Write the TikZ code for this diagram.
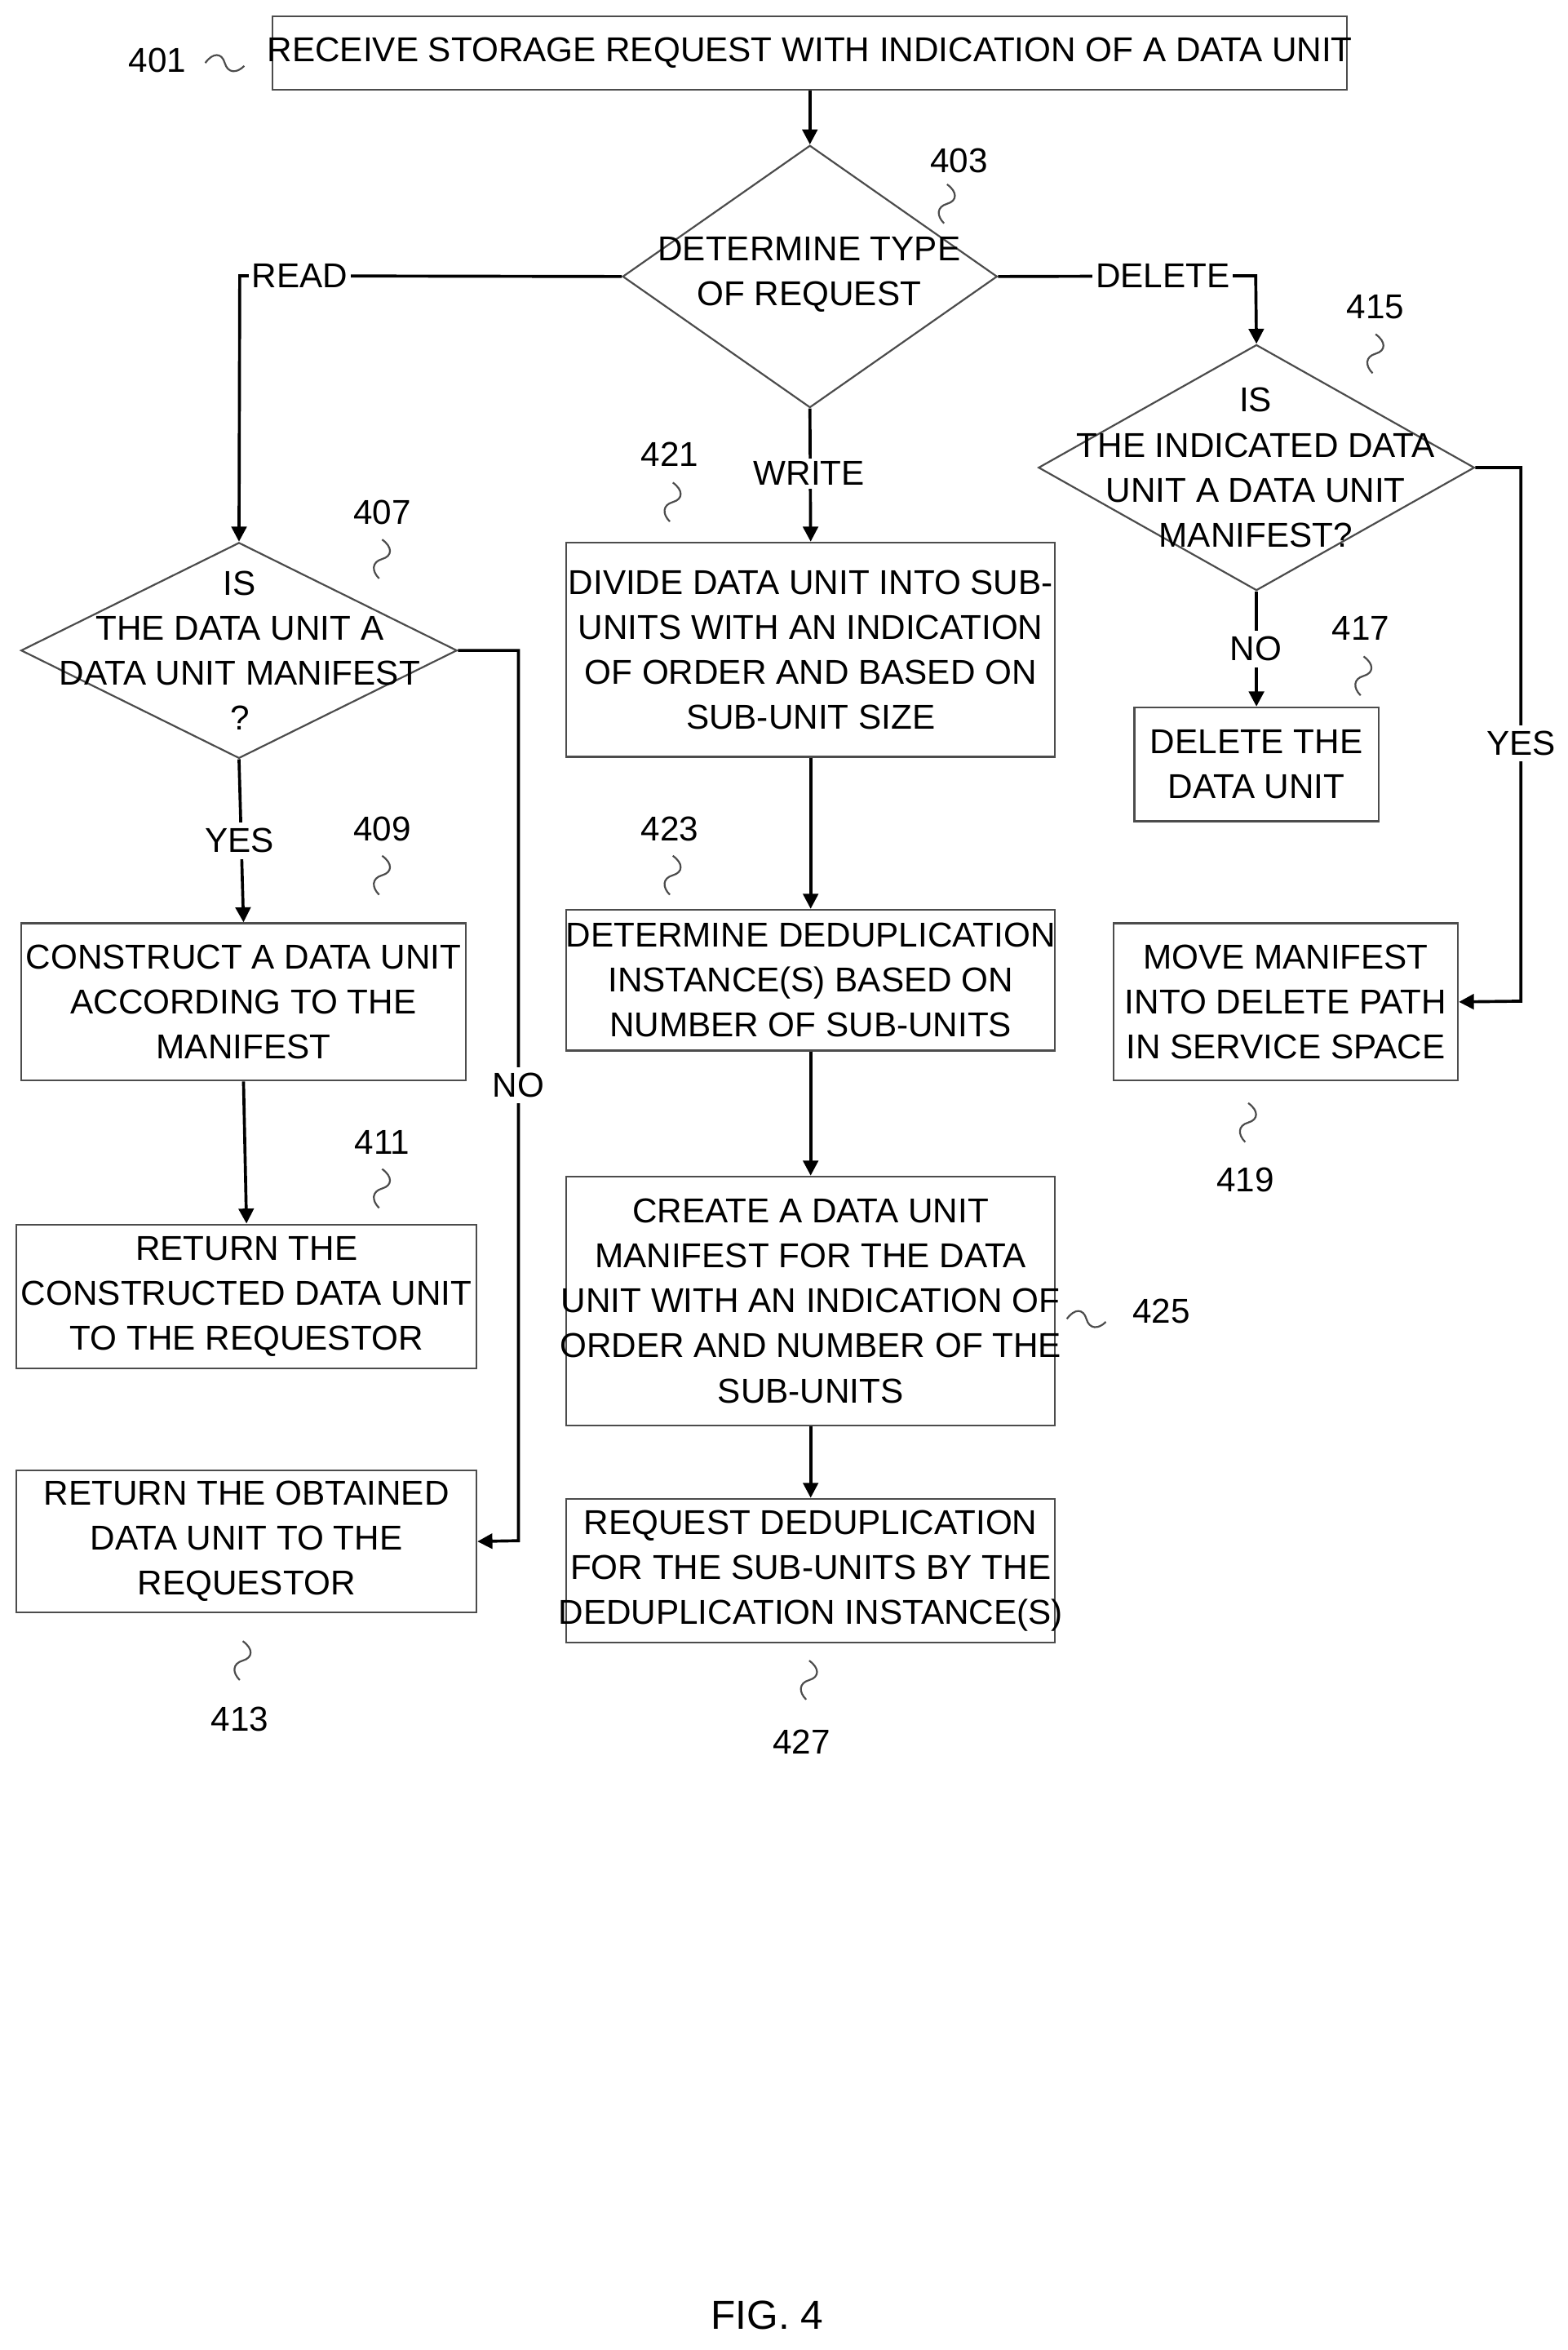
\documentclass[tikz,border=0pt]{standalone}
\usepackage{fontspec}
\setmainfont{Liberation Sans}
\usetikzlibrary{shapes.geometric,arrows.meta}
\begin{document}
\begin{tikzpicture}[x=0.5pt,y=-0.5pt,
  txt/.style={font=\fontsize{11.5}{15}\selectfont,align=center,inner sep=0pt},
  box/.style={draw=black!70,line width=0.6pt,rectangle,inner sep=0pt},
  dia/.style={draw=black!70,line width=0.6pt,diamond,inner sep=0pt},
  arr/.style={line width=1pt,-{Triangle[length=5pt,width=5pt]}},
  ln/.style={line width=1pt},
  lab/.style={font=\fontsize{11.5}{15}\selectfont,inner sep=0pt},
  sq/.style={draw=black!70,line width=0.6pt},
  vsq/.pic={\draw[sq] (0,0) .. controls (7,5) and (7,11) .. (0,13) .. controls (-7,15) and (-7,21) .. (-2,26);},
  hsq/.pic={\draw[sq] (0,0) .. controls (5,-7) and (11,-7) .. (13,0) .. controls (15,7) and (21,7) .. (26,2);}]
\useasboundingbox (0,0) rectangle (1046,1568);
% boxes
\node[box,minimum width=358.5pt,minimum height=24.5pt] (n401) at (540.5,35.5) {};
\node[txt] at (n401) {RECEIVE STORAGE REQUEST WITH INDICATION OF A DATA UNIT};
\node[dia,minimum width=125pt,minimum height=87.5pt] (n403) at (540.5,184.5) {};
\node[txt] at (540,183) {DETERMINE TYPE\\OF REQUEST};
\node[dia,minimum width=145.5pt,minimum height=72pt] (n407) at (159.5,434) {};
\node[txt] at (160,434) {IS\\THE DATA UNIT A\\DATA UNIT MANIFEST\\?};
\node[box,minimum width=148.5pt,minimum height=52.5pt] (n409) at (162.5,668.5) {};
\node[txt] at (n409) {CONSTRUCT A DATA UNIT\\ACCORDING TO THE\\MANIFEST};
\node[box,minimum width=153.5pt,minimum height=48pt] (n411) at (164.5,865) {};
\node[txt] at (n411) {RETURN THE\\CONSTRUCTED DATA UNIT\\TO THE REQUESTOR};
\node[box,minimum width=153.5pt,minimum height=47.5pt] (n413) at (164.5,1028.5) {};
\node[txt] at (n413) {RETURN THE OBTAINED\\DATA UNIT TO THE\\REQUESTOR};
\node[box,minimum width=163pt,minimum height=71.5pt] (n421) at (541,433.5) {};
\node[txt] at (n421) {DIVIDE DATA UNIT INTO SUB-\\UNITS WITH AN INDICATION\\OF ORDER AND BASED ON\\SUB-UNIT SIZE};
\node[box,minimum width=163pt,minimum height=47pt] (n423) at (541,654) {};
\node[txt] at (n423) {DETERMINE DEDUPLICATION\\INSTANCE(S) BASED ON\\NUMBER OF SUB-UNITS};
\node[box,minimum width=163pt,minimum height=83pt] (n425) at (541,868) {};
\node[txt] at (n425) {CREATE A DATA UNIT\\MANIFEST FOR THE DATA\\UNIT WITH AN INDICATION OF\\ORDER AND NUMBER OF THE\\SUB-UNITS};
\node[box,minimum width=163pt,minimum height=48pt] (n427) at (541,1048) {};
\node[txt] at (n427) {REQUEST DEDUPLICATION\\FOR THE SUB-UNITS BY THE\\DEDUPLICATION INSTANCE(S)};
\node[dia,minimum width=145.5pt,minimum height=82pt] (n415) at (838.5,312) {};
\node[txt] at (838,312) {IS\\THE INDICATED DATA\\UNIT A DATA UNIT\\MANIFEST?};
\node[box,minimum width=81.5pt,minimum height=38pt] (n417) at (838.5,510) {};
\node[txt] at (n417) {DELETE THE\\DATA UNIT};
\node[box,minimum width=115pt,minimum height=52.5pt] (n419) at (858,668.5) {};
\node[txt] at (n419) {MOVE MANIFEST\\INTO DELETE PATH\\IN SERVICE SPACE};
% connectors
\coordinate (rd) at (160,184);
\coordinate (dl) at (838,184);
\coordinate (no1) at (346,434);
\coordinate (no2) at (346,1028);
\coordinate (ys1) at (1015,312);
\coordinate (ys2) at (1015,668);
\draw[arr] (n401.south) -- (n403.north);
\draw[arr] (n403.west) -- (rd) -- (n407.north);
\draw[arr] (n403.east) -- (dl) -- (n415.north);
\draw[arr] (n403.south) -- (n421.north);
\draw[arr] (n407.south) -- (n409.north);
\draw[arr] (n409.south) -- (n411.north);
\draw[arr] (n407.east) -- (no1) -- (no2) -- (n413.east);
\draw[arr] (n421.south) -- (n423.north);
\draw[arr] (n423.south) -- (n425.north);
\draw[arr] (n425.south) -- (n427.north);
\draw[arr] (n415.south) -- (n417.north);
\draw[arr] (n415.east) -- (ys1) -- (ys2) -- (n419.east);
% branch labels
\node[lab,fill=white,inner sep=1pt] at (200,184) {READ};
\node[lab,fill=white,inner sep=1pt] at (776,184) {DELETE};
\node[lab,fill=white,inner sep=1pt] at (540,316) {WRITE};
\node[lab,fill=white,inner sep=2pt] at (160,561) {YES};
\node[lab,fill=white,inner sep=2pt] at (346,724) {NO};
\node[lab,fill=white,inner sep=2pt] at (838,433) {NO};
\node[lab,fill=white,inner sep=2pt] at (1015,496) {YES};
% reference labels
\node[lab] (l401) at (105,40) {401};
\pic at (137,42) {hsq};
\node[lab] (l403) at (640,107) {403};
\pic at (632,123) {vsq};
\node[lab] (l407) at (255,342) {407};
\pic at (255,360) {vsq};
\node[lab] (l409) at (255,553) {409};
\pic at (255,571) {vsq};
\node[lab] (l411) at (255,762) {411};
\pic at (255,780) {vsq};
\node[lab] (l413) at (160,1147) {413};
\pic at (162,1095) {vsq};
\node[lab] (l415) at (918,205) {415};
\pic at (918,223) {vsq};
\node[lab] (l417) at (908,419) {417};
\pic at (910,438) {vsq};
\node[lab] (l419) at (831,787) {419};
\pic at (833,736) {vsq};
\node[lab] (l421) at (447,303) {421};
\pic at (449,322) {vsq};
\node[lab] (l423) at (447,553) {423};
\pic at (449,571) {vsq};
\node[lab] (l425) at (775,875) {425};
\pic at (712,880) {hsq};
\node[lab] (l427) at (535,1162) {427};
\pic at (540,1108) {vsq};
\node[font=\fontsize{13.5}{16}\selectfont,inner sep=0pt] (fig) at (512,1545) {FIG. 4};
\end{tikzpicture}
\end{document}
